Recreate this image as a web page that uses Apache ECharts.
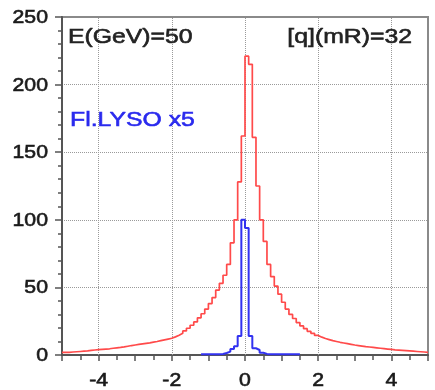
<!DOCTYPE html>
<html>
<head>
<meta charset="utf-8">
<script src="https://cdn.jsdelivr.net/npm/echarts@6/dist/echarts.min.js"></script>
<style>
  html, body { margin: 0; padding: 0; background: #fff; }
  #chart { width: 435px; height: 390px; }
</style>
</head>
<body>
<div id="chart"></div>
<script>
// Histogram binning
const redStart = -5.0;
const binWidth = 0.1;
// Red histogram: 100 bins from -5 to 5
const redCounts = [
  2.0, 2.0, 2.2, 2.4, 2.6, 2.8, 3.0, 3.4, 3.7, 4.0,
  4.2, 4.4, 4.6, 5.0, 5.3, 5.6, 6.0, 6.5, 7.0, 7.4,
  7.8, 8.2, 8.6, 9.0, 9.5, 10.0, 10.6, 11.2, 11.8, 12.4,
  13.4, 14.6, 16.0, 17.8, 19.8, 22.0, 24.5, 27.5, 30.5, 34.0,
  38.0, 42.5, 48.0, 53.0, 59.0, 67.0, 83.0, 100.0, 128.0, 162.0,
  221.0, 215.0, 161.0, 125.0, 100.0, 84.0, 67.0, 58.0, 51.0, 45.0,
  39.0, 34.0, 30.0, 27.0, 24.0, 21.5, 19.5, 17.5, 16.0, 14.5,
  13.2, 12.2, 11.4, 10.6, 10.0, 9.4, 8.9, 8.4, 7.9, 7.4,
  7.0, 6.6, 6.2, 5.9, 5.6, 5.3, 5.0, 4.7, 4.4, 4.1,
  3.8, 3.6, 3.4, 3.2, 3.0, 2.8, 2.6, 2.4, 2.2, 2.0
];
// Blue histogram (Fl.LYSO, scaled x5): 27 bins from -1.2 to 1.5
const blueStart = -1.2;
const blueCounts = [
  0.6, 0.6, 0.6, 0.6, 0.6, 0.8, 1.5, 2.5, 4.5, 6.5,
  14.0, 100.0, 94.0, 14.0, 5.0, 3.7, 1.7, 0.8, 0.6, 0.6,
  0.6, 0.6, 0.6, 0.6, 0.6, 0.6, 0.6
];
const xGridValues = [-4, -2, 0, 2, 4];
const xLabelValues = [-4, -2, 0, 2, 4];
const yLabelValues = [0, 50, 100, 150, 200, 250];
const energyText = 'E(GeV)=50';
const angleText = '[q](mR)=32';
const lysoText = 'Fl.LYSO x5';

// Turn bin counts into [edge, count] points for a step line
function stepPoints(start, width, counts) {
  const pts = counts.map((c, i) => [+(start + i * width).toFixed(3), c]);
  pts.push([+(start + counts.length * width).toFixed(3), counts[counts.length - 1]]);
  return pts;
}

// Helvetica-like lettering, drawn a little wide
const FONT = '"Liberation Sans", Arial, sans-serif';
const WIDE = 1.18;
const chart = echarts.init(document.getElementById('chart'));

chart.setOption({
  animation: false,
  backgroundColor: '#ffffff',
  grid: {
    left: 62, right: 7, top: 17, bottom: 35,
    show: true, borderColor: '#8a8a8a', borderWidth: 2, backgroundColor: 'transparent'
  },
  xAxis: {
    type: 'value', min: -5, max: 5, interval: 1,
    axisLine: { show: true, onZero: false, lineStyle: { color: '#555', width: 2 } },
    axisTick: { show: true, inside: false, length: 6, lineStyle: { color: '#555', width: 1.5 } },
    minorTick: { show: true, splitNumber: 2, length: 5, lineStyle: { color: '#555', width: 1.5 } },
    splitLine: { show: false },
    axisLabel: { show: false }
  },
  yAxis: {
    type: 'value', min: 0, max: 250, interval: 50,
    axisLine: { show: true, onZero: false, lineStyle: { color: '#555', width: 2 } },
    axisTick: { show: true, inside: false, length: 7, lineStyle: { color: '#555', width: 1.5 } },
    minorTick: { show: true, splitNumber: 5, length: 4, lineStyle: { color: '#555', width: 1.5 } },
    splitLine: {
      show: true, showMinLine: false, showMaxLine: false,
      lineStyle: { color: '#9a9a9a', type: 'dotted', width: 1 }
    },
    axisLabel: { show: false }
  },
  series: [
    {
      type: 'line', step: 'end', symbol: 'none', z: 3,
      data: stepPoints(redStart, binWidth, redCounts),
      lineStyle: { color: '#ff4a4a', width: 1.7 },
      markLine: {
        silent: true, symbol: 'none', z: 1,
        label: { show: false },
        lineStyle: { color: '#9a9a9a', type: 'dotted', width: 1 },
        data: xGridValues.map(v => ({ xAxis: v }))
      }
    },
    {
      type: 'line', step: 'end', symbol: 'none', z: 4,
      data: stepPoints(blueStart, binWidth, blueCounts),
      lineStyle: { color: '#3232f0', width: 2 }
    }
  ]
});

// Tick labels and annotations, placed through the axis scales
function wideText(x, y, text, align, vAlign, size, color) {
  return {
    type: 'text', x: x, y: y, scaleX: WIDE, z: 10,
    style: {
      text: text, x: 0, y: 0, textAlign: align, textVerticalAlign: vAlign,
      fontSize: size, fontFamily: FONT, fill: color,
      stroke: color, lineWidth: 0.6
    }
  };
}
const labels = [];
xLabelValues.forEach(v => {
  const p = chart.convertToPixel({ gridIndex: 0 }, [v, 0]);
  labels.push(wideText(p[0], p[1] + 26, String(v), 'center', 'middle', 18, '#1a1a1a'));
});
yLabelValues.forEach(v => {
  const p = chart.convertToPixel({ gridIndex: 0 }, [-5, v]);
  labels.push(wideText(p[0] - 14, p[1] + 1, String(v), 'right', 'middle', 18, '#1a1a1a'));
});
const topLeft = chart.convertToPixel({ gridIndex: 0 }, [-5, 250]);
const topRight = chart.convertToPixel({ gridIndex: 0 }, [5, 250]);
labels.push(wideText(topLeft[0] + 6, topLeft[1] + 20, energyText, 'left', 'middle', 21, '#222'));
labels.push(wideText(topRight[0] - 16, topRight[1] + 20, angleText, 'right', 'middle', 21, '#222'));
labels.push(wideText(topLeft[0] + 8, topLeft[1] + 103, lysoText, 'left', 'middle', 21, '#2a2aee'));
chart.setOption({ graphic: labels });
</script>
</body>
</html>
